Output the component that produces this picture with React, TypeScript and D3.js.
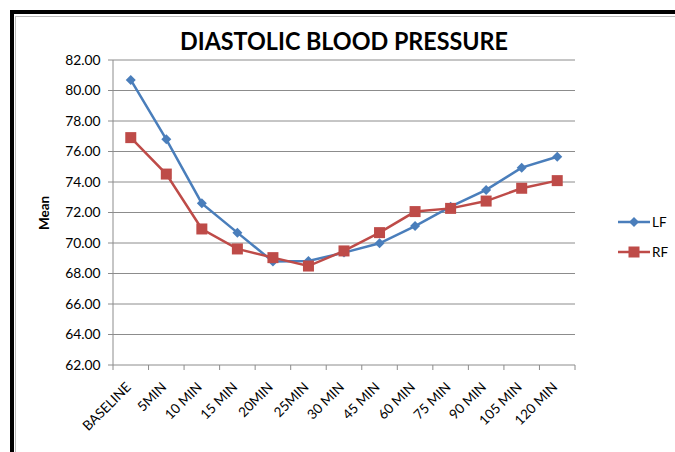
import React from "react";
import * as d3 from "d3";

const categories = ["BASELINE", "5MIN", "10 MIN", "15 MIN", "20MIN", "25MIN", "30 MIN", "45 MIN", "60 MIN", "75 MIN", "90 MIN", "105 MIN", "120 MIN"];
const lfValues = [80.69, 76.8, 72.6, 70.68, 68.78, 68.82, 69.37, 69.98, 71.11, 72.38, 73.48, 74.94, 75.66];
const rfValues = [76.91, 74.52, 70.92, 69.61, 69.04, 68.49, 69.48, 70.68, 72.06, 72.27, 72.75, 73.59, 74.09];
const yTicks = [62, 64, 66, 68, 70, 72, 74, 76, 78, 80, 82];
const seriesNames = ["LF", "RF"];

const W = 675, H = 452;
const FONT = "Lato, 'Open Sans', sans-serif";
const LF_COLOR = "#4A7EBB";
const RF_COLOR = "#BE4B48";

export default function App() {
  const left = 113, right = 575, top = 60, bottom = 365;
  const x = d3.scaleBand<string>().domain(categories).range([left, right]).paddingInner(0).paddingOuter(0);
  const y = d3.scaleLinear().domain([62, 82]).range([bottom, top]);
  const cx = (c: string) => (x(c) as number) + x.bandwidth() / 2;
  const line = d3.line<number>().x((_, i) => cx(categories[i])).y((v) => y(v));
  const diamond = d3.symbol().type(d3.symbolSquare).size(50)();
  const bandEdges = categories.map((c) => x(c) as number).concat([right]);

  return (
    <svg width={W} height={H} style={{ position: "absolute", left: 0, top: 0, background: "#fff" }}>
      <rect x={0} y={0} width={W} height={H} fill="#fff" />
      <rect x={12} y={12} width={W + 10} height={H + 20} fill="none" stroke="#000" strokeWidth={4} />
      <rect x={15.5} y={16.5} width={W} height={H} fill="none" stroke="#bbb" strokeWidth={1} />
      <text x={344} y={50} textAnchor="middle" fontFamily={FONT} fontWeight="bold" fontSize={25} fill="#000" textLength={328} lengthAdjust="spacingAndGlyphs">DIASTOLIC BLOOD PRESSURE</text>
      {yTicks.map((t) => (
        <g key={t}>
          {t !== 62 && <line x1={left} x2={right} y1={y(t)} y2={y(t)} stroke="#8c8c8c" strokeWidth={1} />}
          <line x1={left - 5} x2={left} y1={y(t)} y2={y(t)} stroke="#8c8c8c" strokeWidth={1} />
          <text x={100.5} y={y(t) + 4.7} textAnchor="end" fontFamily={FONT} fontSize={13.8} fill="#000">{t.toFixed(2)}</text>
        </g>
      ))}
      <line x1={left} x2={left} y1={top} y2={bottom} stroke="#8c8c8c" strokeWidth={1} />
      <line x1={left} x2={right} y1={bottom} y2={bottom} stroke="#8c8c8c" strokeWidth={1} />
      {bandEdges.map((e, i) => (
        <line key={i} x1={e} x2={e} y1={bottom} y2={bottom + 5} stroke="#8c8c8c" strokeWidth={1} />
      ))}
      {categories.map((c) => (
        <text key={c} transform={`translate(${cx(c) + 1},${bottom + 23}) rotate(-45)`} textAnchor="end" fontFamily={FONT} fontSize={13.5} fill="#000">{c}</text>
      ))}
      <text transform={`translate(49,213) rotate(-90)`} textAnchor="middle" fontFamily={FONT} fontWeight="bold" fontSize={13.5} fill="#000">Mean</text>
      <path d={line(lfValues) || ""} fill="none" stroke={LF_COLOR} strokeWidth={2.5} />
      <path d={line(rfValues) || ""} fill="none" stroke={RF_COLOR} strokeWidth={2.5} />
      {lfValues.map((v, i) => (
        <path key={"lf" + i} d={diamond || ""} transform={`translate(${cx(categories[i])},${y(v)}) rotate(45)`} fill={LF_COLOR} />
      ))}
      {rfValues.map((v, i) => (
        <rect key={"rf" + i} x={cx(categories[i]) - 5.5} y={y(v) - 5.5} width={11} height={11} fill={RF_COLOR} />
      ))}
      {seriesNames.map((n, i) => {
        const ly = 222 + i * 30;
        const col = i === 0 ? LF_COLOR : RF_COLOR;
        return (
          <g key={n}>
            <line x1={618} x2={650} y1={ly} y2={ly} stroke={col} strokeWidth={2.5} />
            {i === 0 ? (
              <path d={diamond || ""} transform={`translate(634,${ly}) rotate(45)`} fill={col} />
            ) : (
              <rect x={634 - 5.5} y={ly - 5.5} width={11} height={11} fill={col} />
            )}
            <text x={652} y={ly + 5} fontFamily={FONT} fontSize={13.5} fill="#000">{n}</text>
          </g>
        );
      })}
    </svg>
  );
}
